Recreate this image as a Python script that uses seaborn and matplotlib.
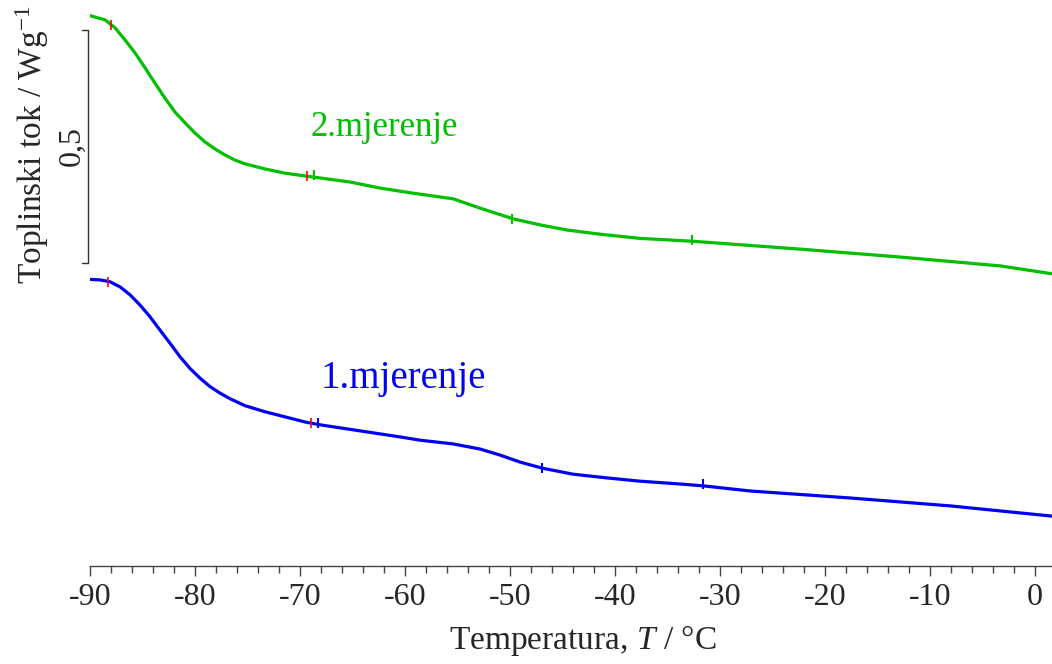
import numpy as np
import pandas as pd
import matplotlib.pyplot as plt
import seaborn as sns
from matplotlib.ticker import MultipleLocator

sns.set_style("white")
plt.rcParams['font.family'] = ['Liberation Serif', 'DejaVu Serif']
plt.rcParams['mathtext.fontset'] = 'custom'
plt.rcParams['mathtext.rm'] = 'Liberation Serif'
plt.rcParams['mathtext.it'] = 'Liberation Serif:italic'
plt.rcParams['axes.unicode_minus'] = False

# 2.mjerenje (green), heat flow in W/g (offset curve)
t2 = [-90.00, -88.57, -87.62, -86.67, -85.71, -84.76, -83.81, -82.86, -81.90, -80.95,
      -80.00, -79.05, -78.10, -77.14, -76.19, -75.24, -73.33, -71.43, -69.52, -65.24,
      -62.38, -59.24, -55.43, -52.86, -49.71, -47.14, -44.57, -41.43, -37.62, -32.67,
      -22.38, -12.86, -3.33, 1.62]
q2 = [1.181, 1.172, 1.155, 1.129, 1.101, 1.069, 1.036, 1.004, 0.974, 0.951,
      0.929, 0.910, 0.895, 0.882, 0.871, 0.863, 0.852, 0.843, 0.837, 0.824,
      0.811, 0.800, 0.788, 0.768, 0.745, 0.732, 0.721, 0.712, 0.703, 0.697,
      0.680, 0.663, 0.644, 0.627]

# 1.mjerenje (blue)
t1 = [-90.00, -89.05, -88.10, -87.14, -86.19, -85.24, -84.29, -83.33, -82.38, -81.43,
      -80.48, -79.52, -78.57, -77.62, -76.67, -75.24, -73.33, -71.43, -69.52, -68.10,
      -60.48, -58.57, -55.43, -52.86, -50.95, -49.05, -46.95, -44.00, -40.76, -37.62,
      -33.81, -31.62, -27.14, -17.62, -8.10, 1.62]
q1 = [0.615, 0.614, 0.610, 0.599, 0.582, 0.560, 0.535, 0.506, 0.478, 0.449,
      0.424, 0.403, 0.385, 0.371, 0.359, 0.344, 0.331, 0.320, 0.309, 0.303,
      0.277, 0.270, 0.262, 0.251, 0.238, 0.223, 0.210, 0.197, 0.189, 0.182,
      0.176, 0.172, 0.161, 0.146, 0.129, 0.107]

# analysis marks on the curves
red_t = [-88.0, -69.3, -88.3, -69.0]
red_q = [1.160, 0.836, 0.610, 0.306]
g_mark_t = [-68.7, -49.8, -32.7]
g_mark_q = [0.840, 0.745, 0.700]
b_mark_t = [-68.3, -47.0, -31.6]
b_mark_q = [0.307, 0.210, 0.175]

green = "#00BE00"
blue = "#0000F5"

df1 = pd.DataFrame({"T": t1, "q": q1})
df2 = pd.DataFrame({"T": t2, "q": q2})

fig = plt.figure(figsize=(10.52, 6.64), dpi=100)
ax = fig.add_axes([90 / 1052, 98 / 664, 962 / 1052, 566 / 664])

sns.lineplot(data=df2, x="T", y="q", color=green, lw=2.3, ax=ax)
sns.lineplot(data=df1, x="T", y="q", color=blue, lw=2.3, ax=ax)

ax.scatter(red_t, red_q, marker="|", s=60, color="red", lw=1.2, zorder=3)
ax.scatter(g_mark_t, g_mark_q, marker="|", s=60, color=green, lw=1.5, zorder=3)
ax.scatter(b_mark_t, b_mark_q, marker="|", s=60, color=blue, lw=1.5, zorder=3)

ax.set_xlim(-90, 1.6)
ax.set_ylim(0, 566 / 466)
ax.set_yticks([])
ax.xaxis.set_major_locator(MultipleLocator(10))
ax.xaxis.set_minor_locator(MultipleLocator(2))
ax.tick_params(axis="x", which="major", direction="out", length=7, width=1,
               color="#444444", labelsize=23, pad=5, bottom=True)
ax.tick_params(axis="x", which="minor", direction="out", length=5, width=1,
               color="#444444", bottom=True)
for s in ["left", "top", "right"]:
    ax.spines[s].set_visible(False)
ax.spines["bottom"].set_color("#444444")
ax.spines["bottom"].set_linewidth(1)

# 0,5 W/g scale bar
ax.plot([-90.2, -90.2], [0.650, 1.150], color="#333333", lw=1, clip_on=False)
ax.plot([-90.75, -90.2], [0.650, 0.650], color="#333333", lw=1, clip_on=False)
ax.plot([-90.75, -90.2], [1.150, 1.150], color="#333333", lw=1, clip_on=False)
fig.text(72 / 1052, 1 - 146 / 664, "0,5", rotation=90, fontsize=23,
         ha="center", va="center")

ax.set_xlabel("")
ax.set_ylabel("")
fig.text(583 / 1052, 1 - 640 / 664, "Temperatura, $T$ / °C", fontsize=24,
         ha="center", va="center")
fig.text(32 / 1052, 1 - 145 / 664, "Toplinski tok / Wg$^{-1}$", fontsize=24,
         rotation=90, ha="center", va="center")

ax.text(-62.0, 0.942, "2.mjerenje", color=green, fontsize=25, ha="center", va="center")
ax.text(-60.2, 0.403, "1.mjerenje", color=blue, fontsize=28, ha="center", va="center")

fig.savefig("out.png", dpi=100)
